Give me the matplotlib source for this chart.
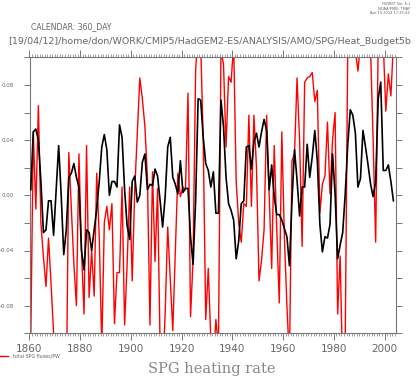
import matplotlib
matplotlib.use("Agg")
import matplotlib.pyplot as plt
import numpy as np
from matplotlib.ticker import MultipleLocator, FuncFormatter

# annual values, 1860 .. 2003 (plotted at mid-year, 360_DAY calendar)
years = np.arange(1860, 2004) + 0.5

spg_heating = [
    0.004, 0.046, 0.048, 0.040, 0.010, -0.027, -0.025, -0.004, -0.004, -0.029,
    0.003, 0.036, 0.000, -0.043, -0.025, 0.013, 0.016, 0.023, 0.013, 0.006,
    -0.040, -0.054, -0.025, -0.027, -0.040, -0.025, -0.010, 0.010, 0.035, 0.044,
    0.033, 0.000, 0.010, 0.010, 0.006, 0.051, 0.042, 0.004, -0.022, -0.032,
    0.010, 0.014, -0.005, 0.000, 0.024, 0.030, 0.004, 0.008, 0.007, 0.019,
    0.014, -0.004, -0.023, -0.001, 0.035, 0.042, 0.013, 0.008, 0.001, 0.025,
    0.002, 0.005, 0.005, -0.030, -0.050, -0.004, 0.070, 0.069, 0.042, 0.023,
    0.018, 0.006, 0.017, -0.013, -0.013, 0.069, 0.050, 0.013, -0.006, -0.011,
    -0.018, -0.046, -0.033, -0.006, -0.004, 0.035, 0.036, 0.019, 0.039, 0.045,
    0.035, 0.046, 0.055, 0.047, 0.004, 0.022, -0.001, -0.014, -0.014, -0.018,
    -0.024, -0.030, -0.051, -0.004, 0.033, 0.011, -0.015, 0.006, 0.006, 0.037,
    0.013, 0.028, 0.047, 0.025, -0.021, -0.041, -0.030, -0.031, -0.021, 0.030,
    0.001, -0.046, -0.036, -0.027, 0.001, 0.037, 0.062, 0.058, 0.045, 0.006,
    0.012, 0.047, 0.035, 0.022, 0.008, -0.001, 0.010, 0.070, 0.082, 0.018,
    0.018, 0.022, 0.010, -0.004,
]

total_spg_fluxes = [
    -0.105, 0.046, -0.010, 0.065, -0.020, -0.045, -0.066, -0.031, -0.064, -0.100,
    -0.150, -0.160, -0.150, -0.140, -0.150, 0.031, -0.010, -0.050, -0.080, 0.030,
    -0.040, -0.086, 0.036, -0.074, -0.040, -0.073, 0.016, -0.030, -0.110, -0.020,
    -0.008, -0.025, -0.006, -0.093, -0.056, -0.056, 0.006, -0.094, -0.050, 0.006,
    -0.062, 0.004, 0.045, 0.085, 0.070, 0.050, 0.013, -0.094, 0.017, -0.048,
    0.005, -0.110, -0.130, -0.085, -0.023, -0.060, -0.098, -0.040, 0.016, -0.001,
    0.006, 0.004, 0.074, -0.088, -0.047, 0.090, 0.120, 0.110, 0.040, -0.090,
    -0.053, -0.105, -0.120, -0.090, -0.110, 0.105, 0.095, 0.035, 0.086, 0.082,
    0.110, 0.010, -0.020, -0.034, -0.006, -0.008, 0.058, -0.008, 0.058, 0.020,
    -0.062, -0.047, -0.025, 0.058, 0.001, -0.053, 0.036, -0.025, -0.078, 0.046,
    -0.030, -0.080, -0.120, 0.025, 0.030, 0.085, 0.040, -0.037, 0.082, 0.085,
    0.086, 0.089, 0.068, 0.076, -0.013, 0.008, 0.014, 0.053, 0.001, 0.040,
    0.060, -0.086, -0.044, -0.130, -0.105, 0.110, 0.120, 0.120, 0.105, 0.090,
    0.110, 0.120, 0.120, 0.120, 0.105, 0.040, -0.034, 0.110, 0.120, 0.110,
    0.061, 0.088, 0.072, 0.110,
]

xticks = [1860, 1880, 1900, 1920, 1940, 1960, 1980, 2000]

fig = plt.figure(figsize=(4.19, 3.77), dpi=100)
ax = fig.add_axes([29.5 / 419, 1 - 333.3 / 377, 366.2 / 419, 276 / 377])

ax.plot(years, spg_heating, color="black", lw=1.2, zorder=3)
ax.plot(years, total_spg_fluxes, color="red", lw=1.0, zorder=2)

ax.set_xlim(1860, 2004.4)
ax.set_ylim(-0.1, 0.1)

axis_grey = "#777777"
text_grey = "#666666"
for s in ax.spines.values():
    s.set_color(axis_grey)
    s.set_linewidth(0.8)

ax.set_xticks(xticks)
ax.xaxis.set_minor_locator(MultipleLocator(1))
ax.yaxis.set_major_locator(MultipleLocator(0.04))
ax.yaxis.set_minor_locator(MultipleLocator(0.02))
ax.yaxis.set_major_formatter(FuncFormatter(lambda v, p: f"{v:.2f}"))

ax.tick_params(axis="x", which="major", direction="out", length=5, width=0.7,
               color=axis_grey, top=True, labelsize=7.5, labelcolor=text_grey, pad=2.5)
ax.tick_params(axis="x", which="minor", direction="out", length=2, width=0.5,
               color=axis_grey, top=True)
ax.tick_params(axis="y", which="both", direction="out", length=4, width=0.7,
               color=axis_grey, right=True, labelsize=4, labelcolor=text_grey, pad=7)

# header text
fig.text(410 / 419, 1 - 4 / 377, "FERRET Ver. 6.1", ha="right", va="center",
         fontsize=2.6, color=text_grey)
fig.text(410 / 419, 1 - 8.5 / 377, "NOAA/PMEL TMAP", ha="right", va="center",
         fontsize=2.6, color=text_grey)
fig.text(410 / 419, 1 - 13 / 377, "Apr 19 2012 17:25:43", ha="right", va="center",
         fontsize=2.6, color=text_grey)
fig.text(31 / 419, 1 - 27 / 377, "CALENDAR: 360_DAY", ha="left", va="center",
         fontsize=5.6, color=text_grey)
fig.text(8 / 419, 1 - 41 / 377,
         "[19/04/12]/home/don/WORK/CMIP5/HadGEM2-ES/ANALYSIS/AMO/SPG/Heat_Budget5b",
         ha="left", va="center", fontsize=6.8, color=text_grey)

# legend key at bottom left
fig.add_artist(plt.Line2D([0, 8 / 419], [1 - 356 / 377] * 2, color="red", lw=1.0))
fig.text(13 / 419, 1 - 356 / 377, "total SPG fluxes/PW", ha="left", va="center",
         fontsize=3.4, color=text_grey)

fig.text(212 / 419, 1 - 369 / 377, "SPG heating rate", ha="center", va="center",
         fontsize=10.5, family="DejaVu Serif", color="#888888")

fig.savefig("out.png", dpi=100)
